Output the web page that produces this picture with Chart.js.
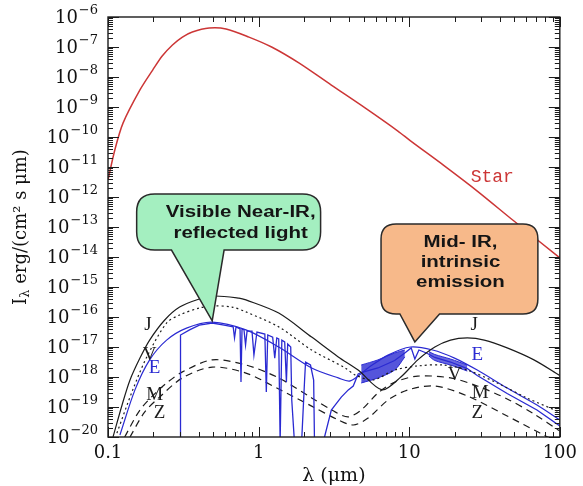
<!DOCTYPE html>
<html>
<head>
<meta charset="utf-8">
<script src="https://cdn.jsdelivr.net/npm/chart.js@4.4.1/dist/chart.umd.min.js"></script>
<style>
  html, body { margin: 0; padding: 0; background: #fff; }
  #sed { display: block; }
</style>
</head>
<body>
<canvas id="sed" width="583" height="486"></canvas>
<script>
// Values: wavelength in micron, I_lambda in erg/(cm2 s um)

const starLam = [0.1, 0.111, 0.126, 0.163, 0.198, 0.229, 0.268, 0.312, 0.363, 0.47, 0.608, 0.863, 1.22, 1.85, 3.04, 5.09, 8.41, 10.2, 17.2, 28.3, 49.6, 100];
const starI = [3.7e-12, 3.7e-11, 2.95e-10, 3.7e-9, 1.7e-8, 5.01e-8, 1.17e-7, 2.14e-7, 3.16e-7, 4.27e-7, 3.98e-7, 2.14e-7, 1e-7, 2.95e-8, 5.37e-9, 9.33e-10, 1.58e-10, 7.41e-11, 1.07e-11, 1.58e-12, 1.58e-13, 9.33e-15];

const jLam = [0.108, 0.124, 0.140, 0.163, 0.189, 0.238, 0.299, 0.404, 0.507, 0.741, 0.824, 1.36, 2.25, 3.38, 4.58, 6.6, 8.8, 11.4, 14.8, 18.8, 24.3, 31.5, 44.7, 67.3, 100];
const jI = [1e-20, 1.17e-19, 7.94e-19, 4.27e-18, 1.7e-17, 7.94e-17, 2.14e-16, 3.98e-16, 5.01e-16, 4.27e-16, 3.72e-16, 1.35e-16, 2.14e-17, 4.68e-18, 1.7e-18, 3.72e-19, 1e-18, 3.72e-18, 1e-17, 1.7e-17, 2e-17, 1.7e-17, 9.33e-18, 3.72e-18, 1.12e-18];

const vLam = [0.1146, 0.146, 0.181, 0.245, 0.299, 0.404, 0.507, 0.667, 0.824, 1.36, 2.25, 3.76, 4.38, 5.75, 8.0, 11.4, 16.7, 24.3, 38.4, 60.5, 100];
const vI = [1.35e-20, 3.72e-19, 4.68e-18, 6.31e-17, 1.17e-16, 2e-16, 2.34e-16, 2.14e-16, 1.48e-16, 4.68e-17, 7.94e-18, 2e-18, 1.17e-18, 7.94e-19, 1.7e-18, 2.34e-18, 2.51e-18, 1.7e-18, 6.31e-19, 2e-19, 6.76e-20];

const eLam = [0.120, 0.151, 0.189, 0.245, 0.332, 0.492, 0.824, 1.36, 2.25, 3.38, 4.06, 5.33, 7.23, 10.2, 14.3, 20, 28.3, 44.7, 70.5, 100];
const eI = [1.17e-20, 3.72e-19, 3.72e-18, 1.7e-17, 4.27e-17, 6.76e-17, 3.72e-17, 1e-17, 2e-18, 9.33e-19, 7.41e-19, 2e-18, 5.37e-18, 1e-17, 7.94e-18, 4.27e-18, 1.7e-18, 4.27e-19, 1.17e-19, 3.72e-20];

// observed Earth spectrum with absorption bands
const specLam = [0.303, 0.303, 0.348, 0.404, 0.492, 0.590, 0.678, 0.692, 0.708, 0.753, 0.764, 0.776, 0.800, 0.819, 0.838, 0.904, 0.931, 0.975, 1.10, 1.125, 1.15, 1.24, 1.28, 1.32, 1.36, 1.39, 1.426, 1.49, 1.53, 1.56, 1.634, 1.66, 1.73, 1.93, 2.02, 2.05, 2.21, 2.32, 2.35, 2.58, 2.74, 3.04, 3.23, 3.54, 3.94, 4.25, 4.58, 4.8, 6.2, 8.0, 9.35, 10.3, 10.9, 11.6, 13.0, 14.8, 18.8, 24.3, 28.3, 44.7, 70.5, 100];
const specI = [3.16e-21, 2.51e-17, 3.72e-17, 5.37e-17, 6.31e-17, 5.37e-17, 4.68e-17, 2e-17, 4.68e-17, 3.98e-17, 6.76e-19, 3.98e-17, 3.72e-17, 1.17e-17, 3.39e-17, 3.39e-17, 5.37e-18, 3.16e-17, 2.69e-17, 3.16e-19, 2.51e-17, 2.14e-17, 4.27e-18, 2e-17, 1.86e-17, 6.76e-21, 1.7e-17, 1.48e-17, 6.76e-19, 1.26e-17, 1e-17, 1.7e-19, 6.76e-21, 6.76e-21, 7.94e-19, 3.16e-18, 2.51e-18, 7.94e-19, 6.76e-21, 6.76e-21, 1e-20, 7.94e-20, 1.17e-19, 2.14e-19, 3.72e-19, 5.01e-19, 1.26e-18, 1.41e-18, 2e-18, 3.55e-18, 6.31e-18, 9.33e-18, 3.98e-18, 7.94e-18, 6.31e-18, 4.47e-18, 3.16e-18, 1.91e-18, 1.12e-18, 2.82e-19, 7.94e-20, 2.34e-20];

// noisy parts of the thermal spectrum (upper / lower envelope)
const band1Lam = [4.8, 6.2, 8.0, 9.35];
const band1Hi = [2.51e-18, 3.72e-18, 6.31e-18, 7.94e-18];
const band1Lo = [6.31e-19, 9.33e-19, 1.7e-18, 4.68e-18];
const band2Lam = [13.5, 14.8, 18.8, 24.3];
const band2Hi = [7.08e-18, 5.62e-18, 3.98e-18, 2.51e-18];
const band2Lo = [5.01e-18, 3.55e-18, 2.51e-18, 1.58e-18];

const mLam = [0.129, 0.163, 0.210, 0.245, 0.312, 0.492, 0.824, 1.36, 2.25, 3.24, 3.94, 4.80, 6.21, 8.04, 11.4, 18.8, 28.3, 44.7, 67.3, 100];
const mI = [1e-20, 7.94e-20, 3.16e-19, 6.31e-19, 1.48e-18, 3.72e-18, 2.51e-18, 9.33e-19, 2e-19, 6.76e-20, 4.68e-20, 7.94e-20, 2.95e-19, 6.76e-19, 1.07e-18, 9.33e-19, 5.01e-19, 1.86e-19, 5.89e-20, 1.58e-20];

const zLam = [0.140, 0.175, 0.220, 0.312, 0.492, 0.824, 1.36, 2.25, 3.38, 4.25, 5.33, 7.23, 9.8, 14.8, 24.3, 44.7, 73.8, 100];
const zI = [1e-20, 6.76e-20, 2.14e-19, 9.33e-19, 2.14e-18, 1.35e-18, 3.98e-19, 1.07e-19, 3.72e-20, 2.51e-20, 4.27e-20, 1.7e-19, 3.72e-19, 5.01e-19, 2.34e-19, 5.01e-20, 1.35e-20, 6.31e-21];

const xTickValues = [0.1, 1, 10, 100];
const xTickLabels = ["0.1", "1", "10", "100"];
const yTickValues = [1e-20, 1e-19, 1e-18, 1e-17, 1e-16, 1e-15, 1e-14, 1e-13, 1e-12, 1e-11, 1e-10, 1e-9, 1e-8, 1e-7, 1e-6];
const yTickExps = ["−20", "−19", "−18", "−17", "−16", "−15", "−14", "−13", "−12", "−11", "−10", "−9", "−8", "−7", "−6"];

// colours
const BLACK = "#1c1c1c";
const BLUE = "#2a2ad2";
const RED = "#cc3636";

const pts = (xs, ys) => xs.map((v, i) => ({ x: v, y: ys[i] }));

const line = (data, color, extra) => Object.assign({
    data: data,
    showLine: true,
    borderColor: color,
    borderWidth: 1.2,
    pointRadius: 0,
    tension: 0.3,
    fill: false,
}, extra || {});

// curve name tags, placed in data space
const tags = [
    { text: "J", lam: 0.184, I: 5.37e-17, color: BLACK },
    { text: "V", lam: 0.189, I: 5.37e-18, color: BLACK },
    { text: "E", lam: 0.204, I: 2e-18, color: BLUE },
    { text: "M", lam: 0.204, I: 2.51e-19, color: BLACK },
    { text: "Z", lam: 0.220, I: 6.31e-20, color: BLACK },
    { text: "J", lam: 27.0, I: 5.37e-17, color: BLACK },
    { text: "E", lam: 28.3, I: 5.37e-18, color: BLUE },
    { text: "V", lam: 20.0, I: 1.17e-18, color: BLACK },
    { text: "M", lam: 29.6, I: 2.95e-19, color: BLACK },
    { text: "Z", lam: 28.3, I: 6.31e-20, color: BLACK },
];

const callouts = [
    {
        lines: ["Visible Near-IR,", "reflected light"],
        lamL: 0.155, lamR: 2.58, iTop: 1.26e-12, iBot: 1.7e-14,
        baseL: 0.264, baseR: 0.59, tipLam: 0.492, tipI: 7.41e-17,
        fill: "#a4efc0", radius: 18, dx: 12, y0: 19, dy: 21,
    },
    {
        lines: ["Mid- IR,", "intrinsic", "emission"],
        lamL: 6.5, lamR: 71.5, iTop: 1.26e-13, iBot: 1.26e-16,
        baseL: 8.67, baseR: 15.9, tipLam: 10.9, tipI: 1.48e-17,
        fill: "#f7b98a", radius: 15, dx: 1, y0: 19, dy: 20,
    },
];

function drawCallout(ctx, xs, ys, c) {
    const l = xs.getPixelForValue(c.lamL), r = xs.getPixelForValue(c.lamR);
    const t = ys.getPixelForValue(c.iTop), b = ys.getPixelForValue(c.iBot);
    const bl = xs.getPixelForValue(c.baseL), br = xs.getPixelForValue(c.baseR);
    const tx = xs.getPixelForValue(c.tipLam), ty = ys.getPixelForValue(c.tipI);
    const rad = c.radius;

    ctx.beginPath();
    ctx.moveTo(l + rad, t);
    ctx.lineTo(r - rad, t);
    ctx.quadraticCurveTo(r, t, r, t + rad);
    ctx.lineTo(r, b - rad);
    ctx.quadraticCurveTo(r, b, r - rad, b);
    ctx.lineTo(br, b);
    ctx.lineTo(tx, ty);
    ctx.lineTo(bl, b);
    ctx.lineTo(l + rad, b);
    ctx.quadraticCurveTo(l, b, l, b - rad);
    ctx.lineTo(l, t + rad);
    ctx.quadraticCurveTo(l, t, l + rad, t);
    ctx.closePath();
    ctx.fillStyle = c.fill;
    ctx.fill();
    ctx.strokeStyle = "#2a2a2a";
    ctx.lineWidth = 1.5;
    ctx.stroke();

    // the text in the figure is wide and bold
    ctx.fillStyle = "#151515";
    ctx.font = 'bold 16px "Liberation Sans", Arial, sans-serif';
    ctx.textAlign = "center";
    ctx.textBaseline = "middle";
    const cx = (l + r) / 2 + c.dx;
    c.lines.forEach((s, i) => {
        ctx.save();
        ctx.translate(cx, t + c.y0 + i * c.dy);
        ctx.scale(1.28, 1);
        ctx.fillText(s, 0, 0);
        ctx.restore();
    });
}

const decoPlugin = {
    id: "deco",
    afterDatasetsDraw(chart) {
        const { ctx, chartArea: a, scales: { x, y } } = chart;
        ctx.save();

        // curve names
        ctx.textAlign = "center";
        ctx.textBaseline = "middle";
        ctx.font = '19px "Liberation Serif", serif';
        tags.forEach(g => {
            ctx.fillStyle = g.color;
            ctx.fillText(g.text, x.getPixelForValue(g.lam), y.getPixelForValue(g.I));
        });
        ctx.font = '18px "Liberation Mono", monospace';
        ctx.fillStyle = RED;
        ctx.fillText("Star", x.getPixelForValue(35.6), y.getPixelForValue(4.68e-12));

        callouts.forEach(c => drawCallout(ctx, x, y, c));

        // frame
        ctx.strokeStyle = BLACK;
        ctx.lineWidth = 1.4;
        ctx.strokeRect(a.left, a.top, a.width, a.height);

        // inward log ticks on all four sides
        ctx.lineWidth = 1;
        ctx.beginPath();
        for (let d = -20; d <= -6; d++) {
            for (let m = 1; m <= 9; m++) {
                const v = m * Math.pow(10, d);
                if (v > 1.0001e-6) break;
                const py = Math.round(y.getPixelForValue(v)) + 0.5;
                const len = m === 1 ? 11 : 5;
                ctx.moveTo(a.left, py); ctx.lineTo(a.left + len, py);
                ctx.moveTo(a.right, py); ctx.lineTo(a.right - len, py);
            }
        }
        for (let d = -1; d <= 2; d++) {
            for (let m = 1; m <= 9; m++) {
                const v = m * Math.pow(10, d);
                if (v > 100.001) break;
                const px = Math.round(x.getPixelForValue(v)) + 0.5;
                const len = m === 1 ? 10 : 5;
                ctx.moveTo(px, a.bottom); ctx.lineTo(px, a.bottom - len);
                ctx.moveTo(px, a.top); ctx.lineTo(px, a.top + len);
            }
        }
        ctx.stroke();

        // y tick labels: "10" with a raised exponent
        ctx.fillStyle = "#111";
        ctx.textAlign = "left";
        const base = '18px "DejaVu Serif", serif', sup = '13px "DejaVu Serif", serif';
        yTickValues.forEach((v, i) => {
            const py = y.getPixelForValue(v);
            ctx.font = sup;
            const we = ctx.measureText(yTickExps[i]).width;
            ctx.font = base;
            const wb = ctx.measureText("10").width;
            const x0 = a.left - 11 - we - wb;
            ctx.fillText("10", x0, py + 1);
            ctx.font = sup;
            ctx.fillText(yTickExps[i], x0 + wb + 1, py - 6);
        });
        ctx.restore();
    },
    afterDraw(chart) {
        const { ctx, chartArea: a } = chart;
        ctx.save();
        ctx.fillStyle = "#111";
        ctx.textBaseline = "middle";

        // x title
        ctx.textAlign = "center";
        ctx.font = '19px "DejaVu Serif", serif';
        ctx.fillText("λ (μm)", (a.left + a.right) / 2, 476);

        // y title, with a lowered lambda
        ctx.translate(21, (a.top + a.bottom) / 2);
        ctx.rotate(-Math.PI / 2);
        ctx.textAlign = "left";
        const parts = [
            { t: "I", f: '18px "DejaVu Serif", serif', dy: 0 },
            { t: "λ", f: '13px "DejaVu Serif", serif', dy: 5 },
            { t: " erg/(cm² s μm)", f: '18px "DejaVu Serif", serif', dy: 0 },
        ];
        let w = 0;
        parts.forEach(p => { ctx.font = p.f; p.w = ctx.measureText(p.t).width; w += p.w; });
        let px = -w / 2;
        parts.forEach(p => { ctx.font = p.f; ctx.fillText(p.t, px, p.dy); px += p.w; });
        ctx.restore();
    },
};

new Chart(document.getElementById("sed"), {
    type: "scatter",
    data: {
        datasets: [
            line(pts(starLam, starI), RED, { borderWidth: 1.5 }),
            line(pts(jLam, jI), BLACK),
            line(pts(vLam, vI), BLACK, { borderDash: [2, 3] }),
            line(pts(band1Lam, band1Hi), BLUE, { borderWidth: 1 }),
            line(pts(band1Lam, band1Lo), BLUE, { borderWidth: 1, fill: "-1", backgroundColor: "rgba(42,42,210,0.8)" }),
            line(pts(band2Lam, band2Hi), BLUE, { borderWidth: 1 }),
            line(pts(band2Lam, band2Lo), BLUE, { borderWidth: 1, fill: "-1", backgroundColor: "rgba(42,42,210,0.7)" }),
            line(pts(eLam, eI), BLUE, { borderWidth: 1.2 }),
            line(pts(specLam, specI), BLUE, { borderWidth: 1.3, tension: 0 }),
            line(pts(mLam, mI), BLACK, { borderDash: [7, 5] }),
            line(pts(zLam, zI), BLACK, { borderDash: [7, 5] }),
        ],
    },
    options: {
        responsive: false,
        animation: false,
        devicePixelRatio: 1,
        layout: { padding: { left: 8, right: 20, top: 17, bottom: 0 } },
        plugins: {
            legend: { display: false },
            tooltip: { enabled: false },
        },
        scales: {
            x: {
                type: "logarithmic",
                min: 0.1,
                max: 100,
                grid: { display: false, drawTicks: false },
                border: { display: false },
                afterBuildTicks: s => { s.ticks = xTickValues.map(v => ({ value: v })); },
                afterFit: s => { s.height = 49; },
                ticks: {
                    autoSkip: false,
                    maxRotation: 0,
                    padding: 6,
                    color: "#111",
                    font: { family: "DejaVu Serif", size: 18 },
                    callback: (v, i) => xTickLabels[i],
                },
            },
            y: {
                type: "logarithmic",
                min: 1e-20,
                max: 1e-6,
                grid: { display: false, drawTicks: false },
                border: { display: false },
                afterBuildTicks: s => { s.ticks = yTickValues.map(v => ({ value: v })); },
                afterFit: s => { s.width = 100; },
                ticks: { display: false },
            },
        },
    },
    plugins: [decoPlugin],
});
</script>
</body>
</html>
